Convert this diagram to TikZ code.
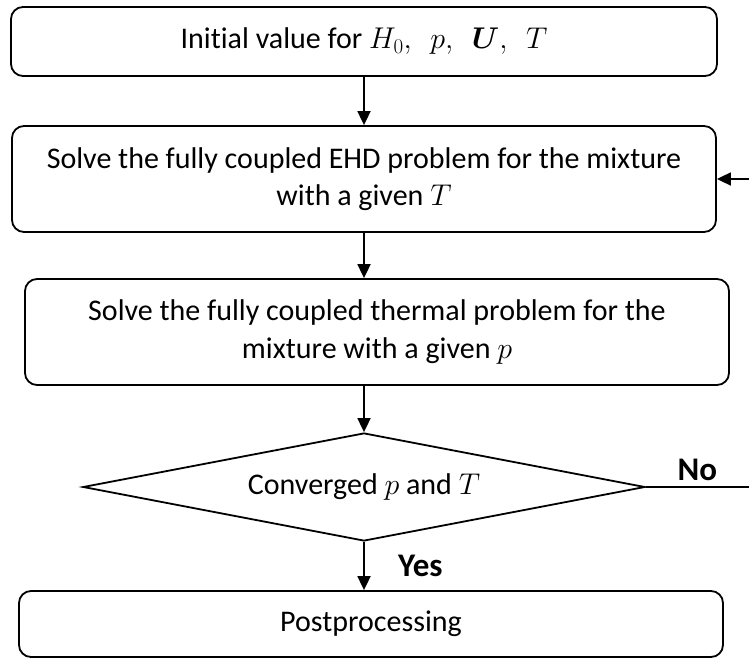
\RequirePackage{fix-cm}
\documentclass[tikz,border=0pt]{standalone}
\usepackage{fontspec}
\setmainfont{Carlito}[Ligatures=NoCommon]
\usepackage{bm}
\usepackage{tikz}
\usetikzlibrary{shapes.geometric}
\usetikzlibrary{arrows.meta}

\tikzset{
  stepbox/.style={draw, rounded corners=12pt, line width=1.8pt, align=center,
    font=\fontsize{30}{37}\selectfont},
  testbox/.style={draw, diamond, aspect=5.2, inner sep=0pt, line width=1.8pt,
    minimum width=562pt, minimum height=108pt, font=\fontsize{30}{37}\selectfont},
  answer/.style={font=\bfseries\fontsize{33}{36}\selectfont}
}

\begin{document}
\begin{tikzpicture}[x=1pt, y=-1pt, line width=1.8pt, >={Triangle[length=14pt,width=13pt]}]
\useasboundingbox (0,0) rectangle (749,660);

\node[stepbox, minimum width=706pt, minimum height=69pt] at (364,41.5) (init)
    {Initial value for $H_0,\ \ p,\ \ \bm{U},\ \ T$};
\node[stepbox, minimum width=704pt, minimum height=106pt] at (364,179) (ehd)
    {Solve the fully coupled EHD problem for the mixture\\ with a given $T$};
\node[stepbox, minimum width=704pt, minimum height=106pt] at (377,332) (thermal)
    {Solve the fully coupled thermal problem for the\\ mixture with a given $p$};
\node[testbox] at (364,487) (conv) {Converged $p$ and $T$};
\node[stepbox, minimum width=704pt, minimum height=66pt] at (371,624) (post)
    {Postprocessing};

\coordinate (noend) at (749,487);
\coordinate (backin) at (749,179);

\draw [->] (init.south) -- (ehd.north);
\draw [->] (ehd.south) -- (ehd.south |- thermal.north);
\draw [->] (conv.north |- thermal.south) -- (conv.north);
\draw [->] (conv.south) -- (conv.south |- post.north)
    node[midway, right=30pt, answer] {Yes};
\draw (conv.east) -- (noend) node[midway, above=2pt, answer] {No};
\draw [->] (backin) -- (ehd.east);
\end{tikzpicture}
\end{document}
